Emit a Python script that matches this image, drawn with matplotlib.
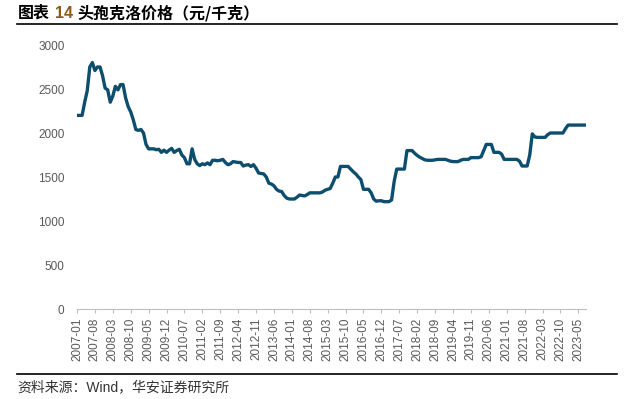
import matplotlib
matplotlib.use("Agg")
import matplotlib.pyplot as plt
import numpy as np
import pandas as pd

plt.rcParams["font.family"] = ["Liberation Sans", "Noto Sans CJK SC", "DejaVu Sans"]

# monthly price, yuan/kg, 2007-01 .. 2023-08
months = pd.period_range("2007-01", "2023-08", freq="M").strftime("%Y-%m").tolist()
prices = [
    2200, 2200, 2200, 2350, 2480, 2750, 2800, 2710, 2750, 2750, 2650, 2510,  # 2007
    2490, 2350, 2420, 2530, 2490, 2550, 2550, 2400, 2300, 2240, 2150, 2040,  # 2008
    2030, 2040, 2000, 1870, 1820, 1820, 1820, 1810, 1815, 1780, 1805, 1780,  # 2009
    1805, 1825, 1780, 1800, 1815, 1750, 1720, 1650, 1650, 1820, 1700, 1650,  # 2010
    1630, 1650, 1640, 1660, 1640, 1690, 1690, 1685, 1690, 1700, 1665, 1640,  # 2011
    1650, 1675, 1670, 1665, 1665, 1625, 1635, 1640, 1620, 1640, 1600, 1545,  # 2012
    1540, 1535, 1500, 1430, 1420, 1400, 1360, 1340, 1335, 1290, 1260, 1250,  # 2013
    1250, 1250, 1270, 1295, 1290, 1285, 1300, 1320, 1320, 1320, 1320, 1320,  # 2014
    1330, 1350, 1360, 1370, 1430, 1500, 1500, 1620, 1620, 1620, 1620, 1590,  # 2015
    1560, 1535, 1500, 1470, 1360, 1360, 1360, 1320, 1250, 1225, 1230, 1230,  # 2016
    1220, 1220, 1220, 1240, 1450, 1590, 1590, 1590, 1590, 1800, 1800, 1800,  # 2017
    1770, 1745, 1725, 1710, 1695, 1690, 1690, 1690, 1695, 1700, 1700, 1700,  # 2018
    1700, 1690, 1680, 1675, 1675, 1675, 1690, 1700, 1700, 1700, 1720, 1720,  # 2019
    1720, 1720, 1730, 1800, 1870, 1870, 1870, 1780, 1780, 1780, 1760, 1700,  # 2020
    1700, 1700, 1700, 1700, 1700, 1680, 1625, 1625, 1625, 1750, 1990, 1955,  # 2021
    1950, 1950, 1950, 1950, 1980, 2000, 2000, 2000, 2000, 2000, 2000, 2050,  # 2022
    2090, 2090, 2090, 2090, 2090, 2090, 2090, 2090,                          # 2023
]
y_ticks = [0, 500, 1000, 1500, 2000, 2500, 3000]

W, H = 634, 399
fig = plt.figure(figsize=(W / 100, H / 100), dpi=100)
ax = fig.add_axes([77 / W, 1 - 309 / H, (586 - 77) / W, (309 - 45) / H])

x = np.arange(len(prices))
ax.plot(x, prices, color="#0D4E6E", lw=2.4, solid_joinstyle="round")

ax.set_xlim(0, len(prices) - 1)
ax.set_ylim(0, 3000)
ax.set_yticks(y_ticks)
tick_pos = x[::7]
ax.set_xticks(tick_pos)
ax.set_xticklabels([months[i] for i in tick_pos], rotation=90)

for side in ("top", "right", "left"):
    ax.spines[side].set_visible(False)
ax.spines["bottom"].set_color("#BFBFBF")
ax.spines["bottom"].set_linewidth(0.8)
ax.tick_params(axis="x", colors="#BFBFBF", length=3, width=0.8, pad=3,
               labelcolor="#595959", labelsize=8.5)
ax.tick_params(axis="y", length=0, pad=9, labelcolor="#595959", labelsize=8.5)

# header
fig.text(18 / W, 1 - 13 / H, "图表", fontsize=11.5, fontweight="bold",
         family=["Noto Sans CJK SC"], va="center")
fig.text(55 / W, 1 - 13 / H, "14", fontsize=11.5, fontweight="bold",
         color="#8F5B16", va="center")
fig.text(77 / W, 1 - 13 / H, "头孢克洛价格（元/千克）", fontsize=11.5,
         fontweight="bold", family=["Noto Sans CJK SC"], va="center")
fig.add_artist(plt.Line2D([17 / W, 617 / W], [1 - 24 / H, 1 - 24 / H],
                          color="black", lw=1.2))

# footer
fig.add_artist(plt.Line2D([17 / W, 617 / W], [1 - 374 / H, 1 - 374 / H],
                          color="black", lw=1.2))
fig.text(17 / W, 1 - 387 / H, "资料来源：Wind，华安证券研究所", fontsize=10,
         color="#333333", va="center")

fig.savefig("out.png", dpi=100)
